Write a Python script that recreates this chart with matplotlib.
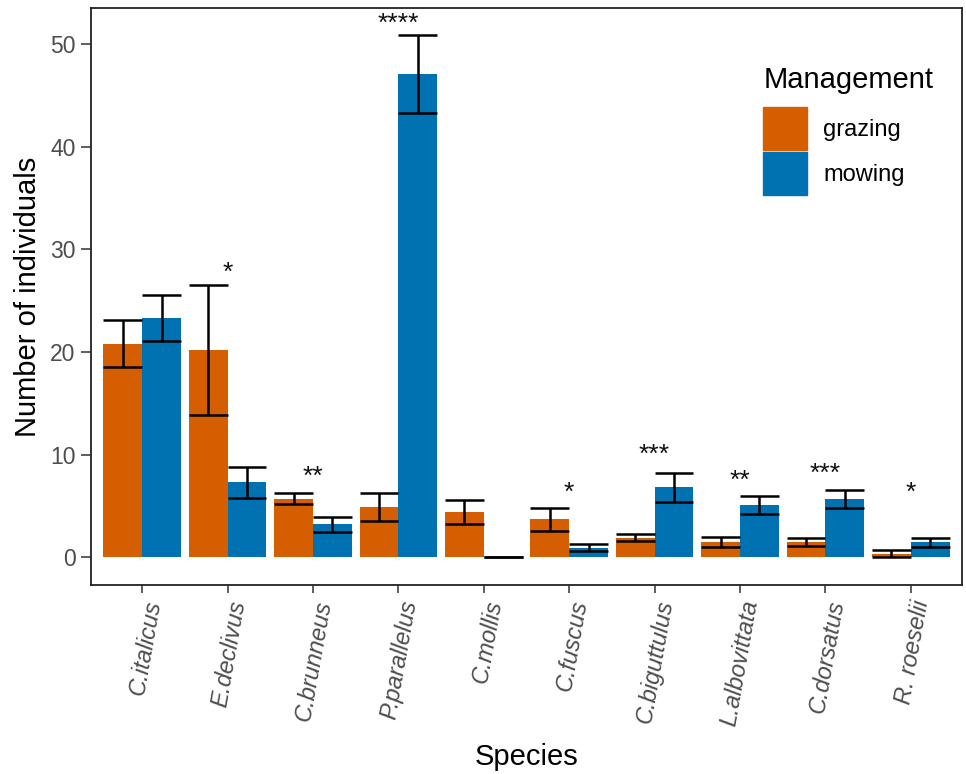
import matplotlib.pyplot as plt
import numpy as np
from matplotlib.patches import Patch

plt.rcParams['font.family'] = ['Liberation Sans', 'DejaVu Sans']

species = ["C.italicus", "E.declivus", "C.brunneus", "P.parallelus", "C.mollis",
           "C.fuscus", "C.biguttulus", "L.albovittata", "C.dorsatus", "R. roeselii"]
grazing = [20.8, 20.2, 5.7, 4.9, 4.4, 3.7, 1.9, 1.5, 1.5, 0.35]
grazing_se = [2.3, 6.3, 0.55, 1.4, 1.2, 1.1, 0.35, 0.5, 0.4, 0.35]
mowing = [23.3, 7.3, 3.2, 47.1, 0.0, 0.95, 6.8, 5.1, 5.7, 1.45]
mowing_se = [2.2, 1.5, 0.7, 3.8, 0.0, 0.35, 1.4, 0.9, 0.9, 0.45]
sig = ["", "*", "**", "****", "", "*", "***", "**", "***", "*"]
sig_y = [0, 27.9, 8.1, 52.2, 0, 6.5, 10.2, 7.7, 8.4, 6.5]

c_graz = "#D55E00"
c_mow = "#0072B2"

fig = plt.figure(figsize=(9.66, 7.74), dpi=100)
ax = fig.add_axes([91/966, 1-585/774, 871/966, 577/774])

x = np.arange(len(species))
w = 0.455
ax.bar(x - w/2, grazing, w, color=c_graz, linewidth=0)
ax.bar(x + w/2, mowing, w, color=c_mow, linewidth=0)

# error bars, caps as wide as the bars
for xs, m, se in [(x - w/2, grazing, grazing_se), (x + w/2, mowing, mowing_se)]:
    m = np.array(m); se = np.array(se)
    ax.vlines(xs, m - se, m + se, color="black", lw=1.8)
    ax.hlines(m - se, xs - w/2, xs + w/2, color="black", lw=1.8)
    ax.hlines(m + se, xs - w/2, xs + w/2, color="black", lw=1.8)

for i in range(len(species)):
    if sig[i]:
        ax.text(x[i], sig_y[i], sig[i], ha="center", va="center_baseline",
                fontsize=19, color="#111111")

ax.set_xlim(-0.6, len(species) - 0.4)
ax.set_ylim(-2.7, 53.5)
ax.set_xticks(x)
ax.set_xticklabels(species, rotation=80, ha="right", rotation_mode="anchor",
                   fontstyle="italic", fontsize=17, color="#4D4D4D")
ax.set_yticks([0, 10, 20, 30, 40, 50])
ax.tick_params(axis="y", labelsize=16.5, labelcolor="#4D4D4D", color="#333333",
               length=7, width=1.1, pad=4)
ax.tick_params(axis="x", color="#333333", length=6, width=1.1)
for s in ax.spines.values():
    s.set_linewidth(1.3)
    s.set_color("#222222")

ax.set_ylabel("Number of individuals", fontsize=21, labelpad=6)
ax.set_xlabel("Species", fontsize=21, labelpad=11)

handles = [Patch(color=c_graz, label="grazing"), Patch(color=c_mow, label="mowing")]
leg = ax.legend(handles=handles, title="Management", loc="upper left",
                bbox_to_anchor=(0.761, 0.915), frameon=False, fontsize=17,
                title_fontsize=21, handlelength=1.85, handleheight=2.4,
                labelspacing=0.12, handletextpad=0.7, borderaxespad=0)
leg._legend_box.align = "left"
leg._legend_box.sep = 9  # more room under the title

fig.savefig("out.png", dpi=100)
